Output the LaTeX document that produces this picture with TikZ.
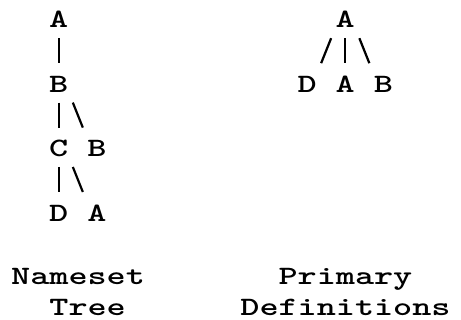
\documentclass[tikz,border=0pt]{standalone}
\usepackage{graphicx}
\newcommand\widetxt[1]{\scalebox{1.373}[1]{#1}}
\tikzset{
  ch/.style={inner sep=0pt, anchor=base, font=\ttfamily\bfseries\fontsize{26.5}{26.5}\selectfont},
  word/.style={ch, anchor=base west},
  edge/.style={line width=2.2pt, black}
}
\begin{document}
\begin{tikzpicture}[x=1pt,y=-1pt]
\useasboundingbox (0,0) rectangle (461,320);
% left tree (Nameset Tree)
\node[ch] (A1) at (58.75,28)    {\widetxt{A}};
\node[ch] (B1) at (58.75,92.4)  {\widetxt{B}};
\node[ch] (C1) at (58.75,156.8) {\widetxt{C}};
\node[ch] (B2) at (96.95,156.8) {\widetxt{B}};
\node[ch] (D1) at (58.75,221.2) {\widetxt{D}};
\node[ch] (A2) at (96.95,221.2) {\widetxt{A}};
\draw[edge] ([yshift=-10.2pt]A1.base) -- ([yshift=29.2pt]B1.base);
\draw[edge] ([yshift=-10.2pt]B1.base) -- ([yshift=29.2pt]C1.base);
\draw[edge] ([xshift=14.1pt,yshift=-10.2pt]B1.base) -- ([xshift=-14.1pt,yshift=29.2pt]B2.base);
\draw[edge] ([yshift=-10.2pt]C1.base) -- ([yshift=29.2pt]D1.base);
\draw[edge] ([xshift=14.1pt,yshift=-10.2pt]C1.base) -- ([xshift=-14.1pt,yshift=29.2pt]A2.base);
% right tree (Primary Definitions)
\node[ch] (RA)  at (345.25,28)   {\widetxt{A}};
\node[ch] (RD)  at (307.05,92.4) {\widetxt{D}};
\node[ch] (RA2) at (345.25,92.4) {\widetxt{A}};
\node[ch] (RB)  at (383.45,92.4) {\widetxt{B}};
\draw[edge] ([xshift=-14.1pt,yshift=-10.2pt]RA.base) -- ([xshift=14.1pt,yshift=29.2pt]RD.base);
\draw[edge] ([yshift=-10.2pt]RA.base) -- ([yshift=29.2pt]RA2.base);
\draw[edge] ([xshift=14.1pt,yshift=-10.2pt]RA.base) -- ([xshift=-14.1pt,yshift=29.2pt]RB.base);
% captions
\node[word] (cap1) at (11,284.5)    {\widetxt{Nameset}};
\node[word] (cap2) at (49.2,315.5)  {\widetxt{Tree}};
\node[word] (cap3) at (278.4,284.5) {\widetxt{Primary}};
\node[word] (cap4) at (240.2,315.5) {\widetxt{Definitions}};
\end{tikzpicture}
\end{document}
